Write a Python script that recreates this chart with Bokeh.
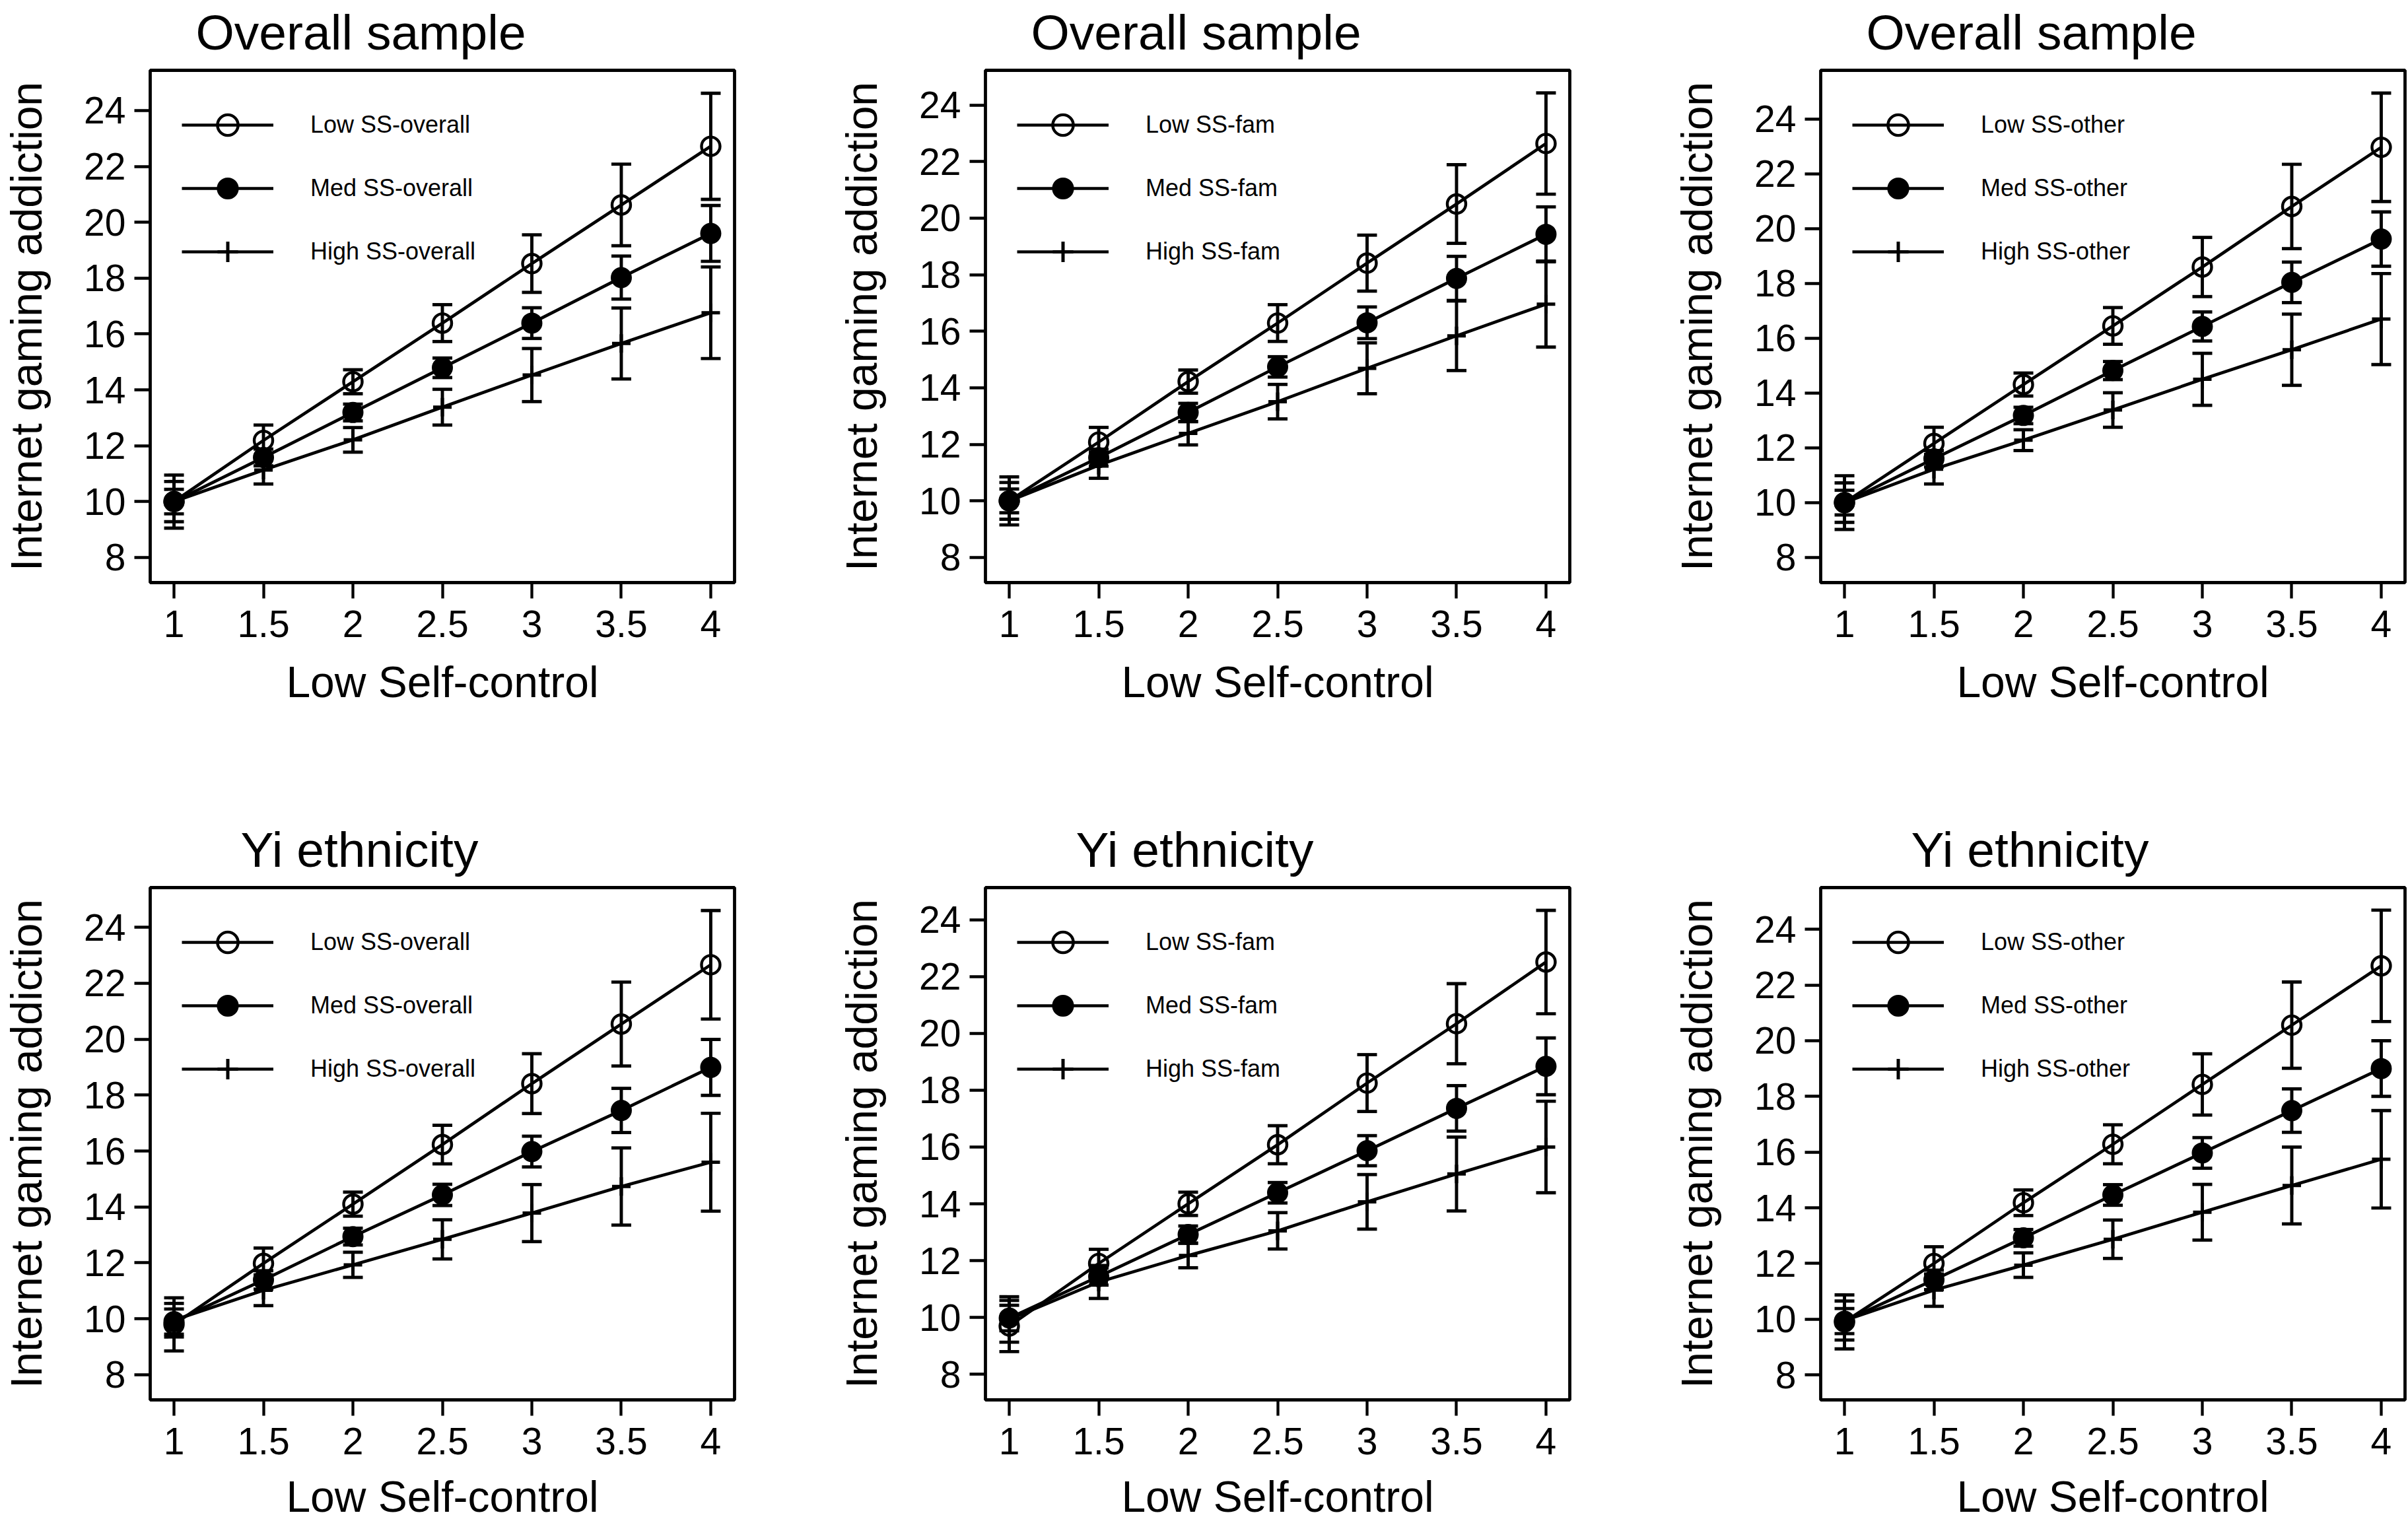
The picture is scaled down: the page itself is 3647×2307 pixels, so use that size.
from bokeh.plotting import figure
from bokeh.models import (ColumnDataSource, Whisker, TeeHead, Legend, LegendItem,
                          Range1d, FixedTicker)
from bokeh.layouts import column, row
from bokeh.embed import file_html
from bokeh.resources import INLINE

FONT = "Liberation Sans"

# ---------------- data ----------------
X = [1, 1.5, 2, 2.5, 3, 3.5, 4]
X_TICK_LABELS = ["1", "1.5", "2", "2.5", "3", "3.5", "4"]
Y_TICKS = [8, 10, 12, 14, 16, 18, 20, 22, 24]
X_LABEL = "Low Self-control"
Y_LABEL = "Internet gaming addiction"
TITLES = ["Overall sample", "Overall sample", "Overall sample",
          "Yi ethnicity", "Yi ethnicity", "Yi ethnicity"]
GROUPS = ["Low", "Med", "High"]
SS_TYPES = ["overall", "fam", "other", "overall", "fam", "other"]

# Panel 1: Overall sample, SS-overall (means and 95% CI half-widths)
P1_LOW = [10.0, 12.19, 14.29, 16.39, 18.52, 20.62, 22.72]
P1_LOW_CI = [0.95, 0.55, 0.43, 0.66, 1.03, 1.46, 1.90]
P1_MED = [10.0, 11.58, 13.19, 14.79, 16.39, 18.02, 19.60]
P1_MED_CI = [0.44, 0.30, 0.30, 0.35, 0.55, 0.77, 1.00]
P1_HIGH = [10.0, 11.13, 12.21, 13.38, 14.53, 15.66, 16.76]
P1_HIGH_CI = [0.72, 0.50, 0.44, 0.64, 0.95, 1.27, 1.64]

# Panel 2: Overall sample, SS-fam
P2_LOW = [10.0, 12.08, 14.22, 16.29, 18.41, 20.50, 22.64]
P2_LOW_CI = [0.85, 0.52, 0.41, 0.65, 0.99, 1.39, 1.79]
P2_MED = [10.0, 11.53, 13.13, 14.74, 16.30, 17.87, 19.43]
P2_MED_CI = [0.42, 0.30, 0.32, 0.36, 0.56, 0.78, 0.97]
P2_HIGH = [10.0, 11.26, 12.39, 13.51, 14.69, 15.84, 16.96]
P2_HIGH_CI = [0.65, 0.46, 0.41, 0.61, 0.90, 1.23, 1.52]

# Panel 3: Overall sample, SS-other
P3_LOW = [10.0, 12.16, 14.31, 16.45, 18.60, 20.81, 22.97]
P3_LOW_CI = [0.98, 0.59, 0.42, 0.67, 1.08, 1.54, 1.98]
P3_MED = [10.0, 11.60, 13.18, 14.82, 16.43, 18.04, 19.62]
P3_MED_CI = [0.45, 0.30, 0.30, 0.33, 0.53, 0.74, 0.99]
P3_HIGH = [10.0, 11.22, 12.28, 13.38, 14.50, 15.58, 16.70]
P3_HIGH_CI = [0.72, 0.54, 0.38, 0.63, 0.95, 1.30, 1.66]

# Panel 4: Yi ethnicity, SS-overall
P4_LOW = [9.80, 11.98, 14.10, 16.23, 18.41, 20.54, 22.66]
P4_LOW_CI = [0.95, 0.55, 0.43, 0.69, 1.07, 1.50, 1.94]
P4_MED = [9.90, 11.39, 12.94, 14.43, 15.98, 17.45, 18.99]
P4_MED_CI = [0.45, 0.33, 0.30, 0.38, 0.55, 0.79, 1.00]
P4_HIGH = [9.95, 11.02, 11.93, 12.84, 13.78, 14.73, 15.60]
P4_HIGH_CI = [0.60, 0.55, 0.45, 0.70, 1.02, 1.38, 1.75]

# Panel 5: Yi ethnicity, SS-fam
P5_LOW = [9.70, 11.90, 14.00, 16.08, 18.25, 20.34, 22.51]
P5_LOW_CI = [0.90, 0.50, 0.41, 0.67, 1.00, 1.41, 1.82]
P5_MED = [9.98, 11.44, 12.92, 14.39, 15.87, 17.36, 18.84]
P5_MED_CI = [0.45, 0.30, 0.30, 0.36, 0.53, 0.80, 1.00]
P5_HIGH = [9.93, 11.25, 12.18, 13.05, 14.07, 15.05, 16.00]
P5_HIGH_CI = [0.80, 0.58, 0.43, 0.64, 0.96, 1.30, 1.61]

# Panel 6: Yi ethnicity, SS-other
P6_LOW = [9.90, 12.00, 14.18, 16.28, 18.43, 20.56, 22.69]
P6_LOW_CI = [0.97, 0.60, 0.46, 0.70, 1.10, 1.55, 2.00]
P6_MED = [9.93, 11.41, 12.92, 14.46, 15.97, 17.49, 19.00]
P6_MED_CI = [0.45, 0.35, 0.30, 0.37, 0.55, 0.78, 1.00]
P6_HIGH = [9.95, 11.04, 11.94, 12.87, 13.84, 14.80, 15.74]
P6_HIGH_CI = [0.70, 0.58, 0.44, 0.69, 1.00, 1.38, 1.75]

PANELS = [
    [(P1_LOW, P1_LOW_CI), (P1_MED, P1_MED_CI), (P1_HIGH, P1_HIGH_CI)],
    [(P2_LOW, P2_LOW_CI), (P2_MED, P2_MED_CI), (P2_HIGH, P2_HIGH_CI)],
    [(P3_LOW, P3_LOW_CI), (P3_MED, P3_MED_CI), (P3_HIGH, P3_HIGH_CI)],
    [(P4_LOW, P4_LOW_CI), (P4_MED, P4_MED_CI), (P4_HIGH, P4_HIGH_CI)],
    [(P5_LOW, P5_LOW_CI), (P5_MED, P5_MED_CI), (P5_HIGH, P5_HIGH_CI)],
    [(P6_LOW, P6_LOW_CI), (P6_MED, P6_MED_CI), (P6_HIGH, P6_HIGH_CI)],
]

# axis ranges per panel
X_RANGE = (0.867, 4.133)
Y_RANGES = [(7.10, 25.44), (7.11, 25.23), (7.08, 25.78),
            (7.10, 25.42), (7.10, 25.13), (7.10, 25.50)]

# ---------------- styling ----------------
FRAME_W = 885
FRAME_H = 776
BORDER_LEFT = 221
BORDER_TOP = 112
TITLE_OFFSET = [69, 69, 69, 137, 137, 137]
MARKER_STYLE = [
    dict(marker="circle", size=28, fill_alpha=0.0, line_width=4.4),
    dict(marker="circle", size=30, fill_color="black", line_width=2),
    dict(marker="cross", size=28, line_width=5),
]


def make_panel(idx, border_right, border_bottom, xlabel_standoff):
    y0, y1 = Y_RANGES[idx]
    p = figure(frame_width=FRAME_W, frame_height=FRAME_H,
               x_range=Range1d(*X_RANGE), y_range=Range1d(y0, y1),
               output_backend="svg", toolbar_location=None,
               min_border_left=BORDER_LEFT, min_border_right=border_right,
               min_border_top=BORDER_TOP, min_border_bottom=border_bottom,
               title=TITLES[idx], background_fill_color="white",
               border_fill_color="white")
    p.title.text_font = FONT
    p.title.text_font_size = "75px"
    p.title.text_font_style = "normal"
    p.title.text_color = "black"
    p.title.align = "left"
    p.title.vertical_align = "top"
    p.title.offset = TITLE_OFFSET[idx]
    p.title.standoff = 28

    p.xgrid.visible = False
    p.ygrid.visible = False
    p.outline_line_color = "black"
    p.outline_line_width = 4.8
    p.outline_line_alpha = 1.0

    p.xaxis.ticker = FixedTicker(ticks=X)
    p.xaxis.major_label_overrides = {float(v): lab for v, lab in zip(X, X_TICK_LABELS)}
    p.yaxis.ticker = FixedTicker(ticks=Y_TICKS)
    p.xaxis.axis_label = X_LABEL
    p.yaxis.axis_label = Y_LABEL
    for ax in (p.xaxis[0], p.yaxis[0]):
        ax.axis_line_color = None
        ax.major_tick_out = 24
        ax.major_tick_in = 0
        ax.major_tick_line_width = 4.3
        ax.major_tick_line_color = "black"
        ax.minor_tick_line_color = None
        ax.major_label_text_font = FONT
        ax.major_label_text_font_size = "57px"
        ax.major_label_text_color = "black"
        ax.axis_label_text_font = FONT
        ax.axis_label_text_font_size = "66px"
        ax.axis_label_text_font_style = "normal"
        ax.axis_label_text_color = "black"
    p.xaxis.major_label_standoff = 18
    p.xaxis.axis_label_standoff = xlabel_standoff
    p.yaxis.major_label_standoff = 13
    p.yaxis.axis_label_standoff = 47

    items = []
    for g, ((mean, ci), style) in enumerate(zip(PANELS[idx], MARKER_STYLE)):
        src = ColumnDataSource(dict(
            x=X, y=mean,
            lo=[m - c for m, c in zip(mean, ci)],
            hi=[m + c for m, c in zip(mean, ci)],
        ))
        r_line = p.line("x", "y", source=src, line_color="black", line_width=4.7)
        wh = Whisker(source=src, base="x", upper="hi", lower="lo",
                     dimension="height", line_color="black", line_width=4.9,
                     upper_head=TeeHead(size=30, line_color="black", line_width=4.9),
                     lower_head=TeeHead(size=30, line_color="black", line_width=4.9))
        p.add_layout(wh)
        r_mark = p.scatter("x", "y", source=src, line_color="black", **style)
        items.append(LegendItem(label=f"{GROUPS[g]} SS-{SS_TYPES[idx]}",
                                renderers=[r_line, r_mark]))

    legend = Legend(items=items, location=(48, 462),
                    glyph_width=139, glyph_height=78, spacing=18,
                    label_standoff=56, padding=0, margin=0,
                    border_line_color=None, background_fill_alpha=0.0,
                    label_text_font=FONT, label_text_font_size="36px",
                    label_text_color="black", label_text_baseline="middle")
    p.add_layout(legend)
    return p


row1 = [make_panel(0, 153, 348, 28), make_panel(1, 153, 348, 28), make_panel(2, 7, 348, 28)]
row2 = [make_panel(3, 153, 183, 24), make_panel(4, 153, 183, 24), make_panel(5, 7, 183, 24)]

# the page's 8px body margin is taken back at top and bottom so the panels sit
# where the reference has them (total height 2307)
layout = column(row(*row1), row(*row2), margin=(-8, 0, -8, 0))

with open("out.html", "w") as f:
    f.write(file_html(layout, INLINE))
